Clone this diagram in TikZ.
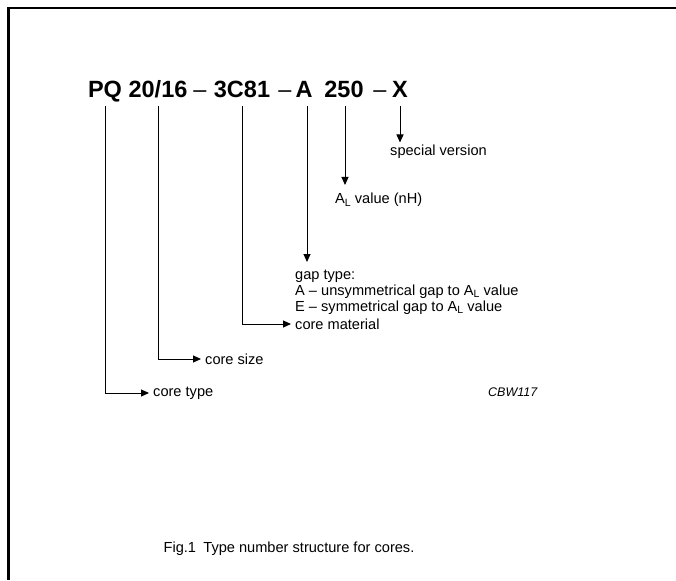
\documentclass[tikz,border=0pt]{standalone}
\usepackage{fontspec}
\setmainfont{Liberation Sans}
\usetikzlibrary{arrows.meta,calc}
\newcommand\subL{\raisebox{-0.3ex}{\fontsize{10.5}{10.5}\selectfont L}}
\begin{document}
\begin{tikzpicture}[x=1pt,y=-1pt,
  lbl/.style={font=\fontsize{14.6}{16}\selectfont, inner sep=0pt, anchor=west},
  tpart/.style={font=\fontsize{23.5}{25}\selectfont\bfseries, inner sep=0pt, anchor=base},
  tdash/.style={font=\fontsize{23.5}{25}\selectfont, inner sep=0pt, anchor=base},
  arr/.style={line width=1pt, -{Triangle[length=8pt,width=7pt]}}]
\useasboundingbox (0,0) rectangle (676,580);
\draw[line width=2.4pt] (8.5,580) -- (8.5,8) -- (676,8);
% title parts
\node[tpart] (pq) at (105,98) {PQ};
\node[tpart] (size) at (158,98) {20/16};
\node[tdash] (d1) at (200,98) {–};
\node[tpart] (mat) at (242,98) {3C81};
\node[tdash] (d2) at (285,98) {–};
\node[tpart] (gap) at (304,98) {A};
\node[tpart] (al) at (344,98) {250};
\node[tdash] (d3) at (380,98) {–};
\node[tpart] (spec) at (400,98) {X};
\coordinate (top) at (0,106);
% labels
\node[lbl] (sv) at (390,152) {special version};
\node[lbl] (alv) at (335,200) {A\subL\ value (nH)};
\node[lbl, anchor=north west, align=left] (gt) at (295,270)
  {gap type:\\A -- unsymmetrical gap to A\subL\ value\\E -- symmetrical gap to A\subL\ value};
\node[lbl] (cm) at (295,324) {core material};
\node[lbl] (cs) at (205,359) {core size};
\node[lbl] (ct) at (153,393) {core type};
\node[font=\fontsize{12.5}{13}\selectfont\itshape, inner sep=0pt, anchor=west] (cbw) at (488,392) {CBW117};
\node[font=\fontsize{14.6}{16}\selectfont, inner sep=0pt] (cap) at (289,549) {Fig.1\enspace Type number structure for cores.};
% connectors
\draw[arr] (spec |- top) -- ($(spec |- sv.north)+(0,-2.5)$);
\draw[arr] ($(al |- top)+(1,0)$) -- ($(al |- alv.north)+(1,-8)$);
\draw[arr] ($(gap |- top)+(3,0)$) -- ($(gap |- gt.north)+(3,-8)$);
\draw[arr, shorten >=4pt] (mat |- top) |- (cm.west);
\draw[arr, shorten >=4pt] (size |- top) |- (cs.west);
\draw[arr, shorten >=4pt] (pq |- top) |- (ct.west);
\end{tikzpicture}
\end{document}
